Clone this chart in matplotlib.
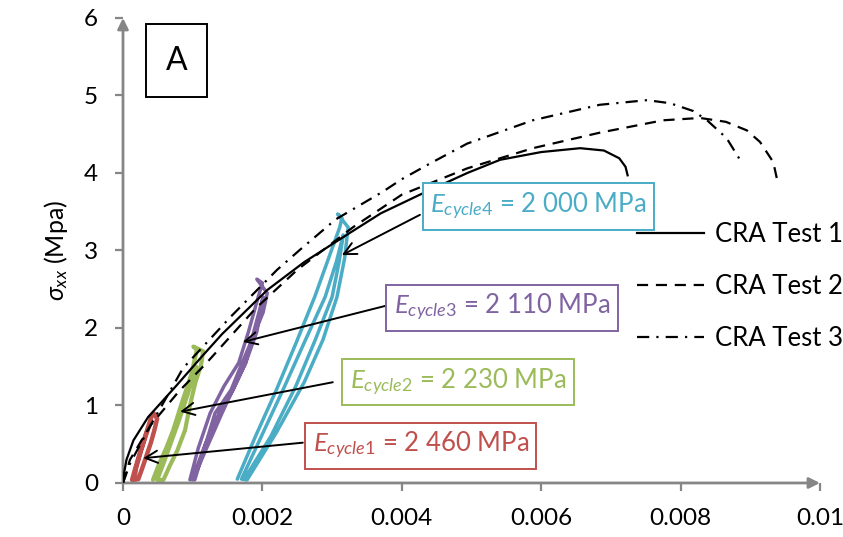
import numpy as np
import matplotlib.pyplot as plt
from matplotlib.patches import Rectangle

plt.rcParams['font.family'] = ['Lato', 'DejaVu Sans']
plt.rcParams['mathtext.fontset'] = 'custom'
plt.rcParams['mathtext.rm'] = 'Lato'
plt.rcParams['mathtext.it'] = 'Lato:italic'

# monotonic CRA tests (strain, stress in MPa)
test1_strain = [0, 0.00005, 0.00015, 0.00036, 0.00075, 0.00113, 0.00142, 0.00207, 0.0026,
                0.00326, 0.0037, 0.00426, 0.00494, 0.00541, 0.006, 0.00656, 0.0069, 0.00712,
                0.00721, 0.00724]
test1_stress = [0.05, 0.3, 0.55, 0.85, 1.24, 1.63, 1.92, 2.49, 2.85, 3.23, 3.48, 3.72, 4.0,
                4.17, 4.27, 4.32, 4.29, 4.19, 4.08, 3.97]

test2_strain = [0, 0.0001, 0.0004, 0.0008, 0.0012, 0.0019, 0.0025, 0.0033, 0.004, 0.00494,
                0.00588, 0.00684, 0.00775, 0.00828, 0.00865, 0.00895, 0.00914, 0.00933, 0.0094]
test2_stress = [0.0, 0.3, 0.75, 1.18, 1.55, 2.25, 2.75, 3.3, 3.72, 4.06, 4.32, 4.52, 4.68,
                4.71, 4.66, 4.55, 4.4, 4.14, 3.85]

test3_strain = [0, 0.0001, 0.0004, 0.00086, 0.00154, 0.00221, 0.00254, 0.00305, 0.00373,
                0.004, 0.0044, 0.00494, 0.00588, 0.00684, 0.00752, 0.00785, 0.00818, 0.00838,
                0.00866, 0.00888]
test3_stress = [0.0, 0.25, 0.75, 1.48, 2.14, 2.75, 3.01, 3.4, 3.76, 3.92, 4.12, 4.38, 4.68,
                4.88, 4.94, 4.9, 4.8, 4.68, 4.45, 4.13]

# cyclic loops (load up, small end mark, unload, second pass)
cyc1_strain = [0.00013, 0.00018, 0.00024, 0.0003, 0.00036, 0.00041, 0.00044, 0.00049, 0.00045,
               0.0004, 0.00034, 0.00028, 0.00022, 0.00016, 0.00019, 0.00026, 0.00033, 0.0004]
cyc1_stress = [0.04, 0.2, 0.38, 0.55, 0.72, 0.86, 0.9, 0.83, 0.68, 0.52, 0.36, 0.2, 0.05,
               0.04, 0.2, 0.42, 0.62, 0.8]

cyc2_strain = [0.00043, 0.00052, 0.00062, 0.00072, 0.00085, 0.00098, 0.00106, 0.00101, 0.00115,
               0.00112, 0.00104, 0.00096, 0.00089, 0.00078, 0.00067, 0.00058, 0.00049, 0.00058,
               0.00068, 0.0008, 0.00093, 0.00105]
cyc2_stress = [0.04, 0.25, 0.45, 0.68, 1.05, 1.4, 1.72, 1.76, 1.7, 1.52, 1.3, 1.0, 0.68, 0.42,
               0.22, 0.04, 0.04, 0.25, 0.5, 0.8, 1.15, 1.5]

cyc3_strain = [0.00096, 0.00108, 0.00125, 0.00145, 0.00166, 0.0018, 0.00194, 0.002, 0.00192,
               0.00207, 0.00201, 0.00185, 0.00171, 0.00155, 0.00132, 0.00103, 0.00099, 0.00118,
               0.00138, 0.00158, 0.00176, 0.00192, 0.00201, 0.00189, 0.00176, 0.0016, 0.00142,
               0.0012, 0.00101]
cyc3_stress = [0.04, 0.45, 0.9, 1.25, 1.55, 1.95, 2.4, 2.58, 2.63, 2.45, 2.2, 1.85, 1.55, 1.2,
               0.9, 0.04, 0.04, 0.5, 0.9, 1.2, 1.55, 1.95, 2.4, 2.0, 1.55, 1.25, 0.9, 0.45, 0.06]

cyc4_strain = [0.00164, 0.0019, 0.0022, 0.00248, 0.00275, 0.00295, 0.00311, 0.00314, 0.00308,
               0.00323, 0.00318, 0.00307, 0.00287, 0.0026, 0.0022, 0.00178, 0.0017, 0.00201,
               0.00232, 0.00262, 0.0029, 0.00306, 0.00316, 0.0031, 0.003, 0.00276, 0.00248,
               0.00212, 0.00174]
cyc4_stress = [0.05, 0.6, 1.2, 1.8, 2.4, 2.9, 3.3, 3.42, 3.47, 3.3, 2.9, 2.4, 1.85, 1.3, 0.65,
               0.04, 0.05, 0.65, 1.25, 1.85, 2.4, 2.85, 3.2, 2.85, 2.4, 1.85, 1.25, 0.6, 0.05]

cycle_labels = [r'$E_{\mathit{cycle1}}$ = 2 460 MPa', r'$E_{\mathit{cycle2}}$ = 2 230 MPa',
                r'$E_{\mathit{cycle3}}$ = 2 110 MPa', r'$E_{\mathit{cycle4}}$ = 2 000 MPa']
cycle_colors = ['#C0504D', '#9BBB59', '#8064A2', '#4BACC6']
cycle_lw = [3.2, 3.0, 2.5, 2.5]
# label box centre, arrow tail, arrow head (data coords)
label_xy = [(0.00427, 0.48), (0.00481, 1.30), (0.00544, 2.26), (0.00596, 3.57)]
tail_xy = [(0.00258, 0.52), (0.00301, 1.30), (0.00383, 2.30), (0.00426, 3.46)]
head_xy = [(0.00029, 0.32), (0.00082, 0.92), (0.00172, 1.82), (0.00314, 2.94)]

gray = '#868686'

fig = plt.figure(figsize=(8.43, 5.37), dpi=100)
ax = fig.add_axes([0.1459, 0.1006, 0.8268, 0.8659])

loops = [(cyc1_strain, cyc1_stress), (cyc2_strain, cyc2_stress),
         (cyc3_strain, cyc3_stress), (cyc4_strain, cyc4_stress)]
for (xs, ys), c, w in zip(loops, cycle_colors, cycle_lw):
    ax.plot(xs, ys, color=c, lw=w, solid_joinstyle='round', solid_capstyle='round', zorder=3)

ax.plot(test1_strain, test1_stress, color='black', lw=1.6, label='CRA Test 1', zorder=4)
ax.plot(test2_strain, test2_stress, color='black', lw=1.6, dashes=(5, 3.5),
        label='CRA Test 2', zorder=4)
ax.plot(test3_strain, test3_stress, color='black', lw=1.6, dashes=(5.5, 3.2, 1, 3.2),
        label='CRA Test 3', zorder=4)

for lab, c, lxy, t, h in zip(cycle_labels, cycle_colors, label_xy, tail_xy, head_xy):
    ax.annotate('', xy=h, xytext=t,
                arrowprops=dict(arrowstyle='->', color='black', lw=1.4,
                                mutation_scale=22, shrinkA=0, shrinkB=0), zorder=5)
    ax.text(lxy[0], lxy[1], lab, color=c, fontsize=18.5, ha='center', va='center',
            bbox=dict(boxstyle='square,pad=0.3', fc='white', ec=c, lw=1.4), zorder=6)

ax.add_patch(Rectangle((0.00033, 4.98), 0.00087, 0.94, fill=False, ec='black', lw=1.4,
                       clip_on=False))
ax.text(0.000765, 5.45, 'A', fontsize=23, ha='center', va='center')

ax.set_xlim(0, 0.01)
ax.set_ylim(0, 6)
ax.set_xticks([0, 0.002, 0.004, 0.006, 0.008, 0.01])
ax.set_xticklabels(['0', '0.002', '0.004', '0.006', '0.008', '0.01'])
ax.set_yticks(range(7))
for s in ax.spines.values():
    s.set_visible(False)
ax.tick_params(direction='out', length=6, width=1.6, color=gray, labelsize=17.5, pad=12)
ax.annotate('', xy=(1, 0), xytext=(0, 0), xycoords='axes fraction',
            arrowprops=dict(arrowstyle='-|>', color=gray, lw=2, mutation_scale=16,
                            shrinkA=0, shrinkB=0), annotation_clip=False)
ax.annotate('', xy=(0, 1), xytext=(0, 0), xycoords='axes fraction',
            arrowprops=dict(arrowstyle='-|>', color=gray, lw=2, mutation_scale=16,
                            shrinkA=0, shrinkB=0), annotation_clip=False)
ax.set_ylabel(r'$\sigma_{xx}$ (Mpa)', fontsize=18, labelpad=10)

ax.legend(loc='center left', bbox_to_anchor=(0.705, 0.423), frameon=False, fontsize=18.5,
          handlelength=2.6, handletextpad=0.4, labelspacing=1.05)

fig.savefig('out.png', dpi=100)
